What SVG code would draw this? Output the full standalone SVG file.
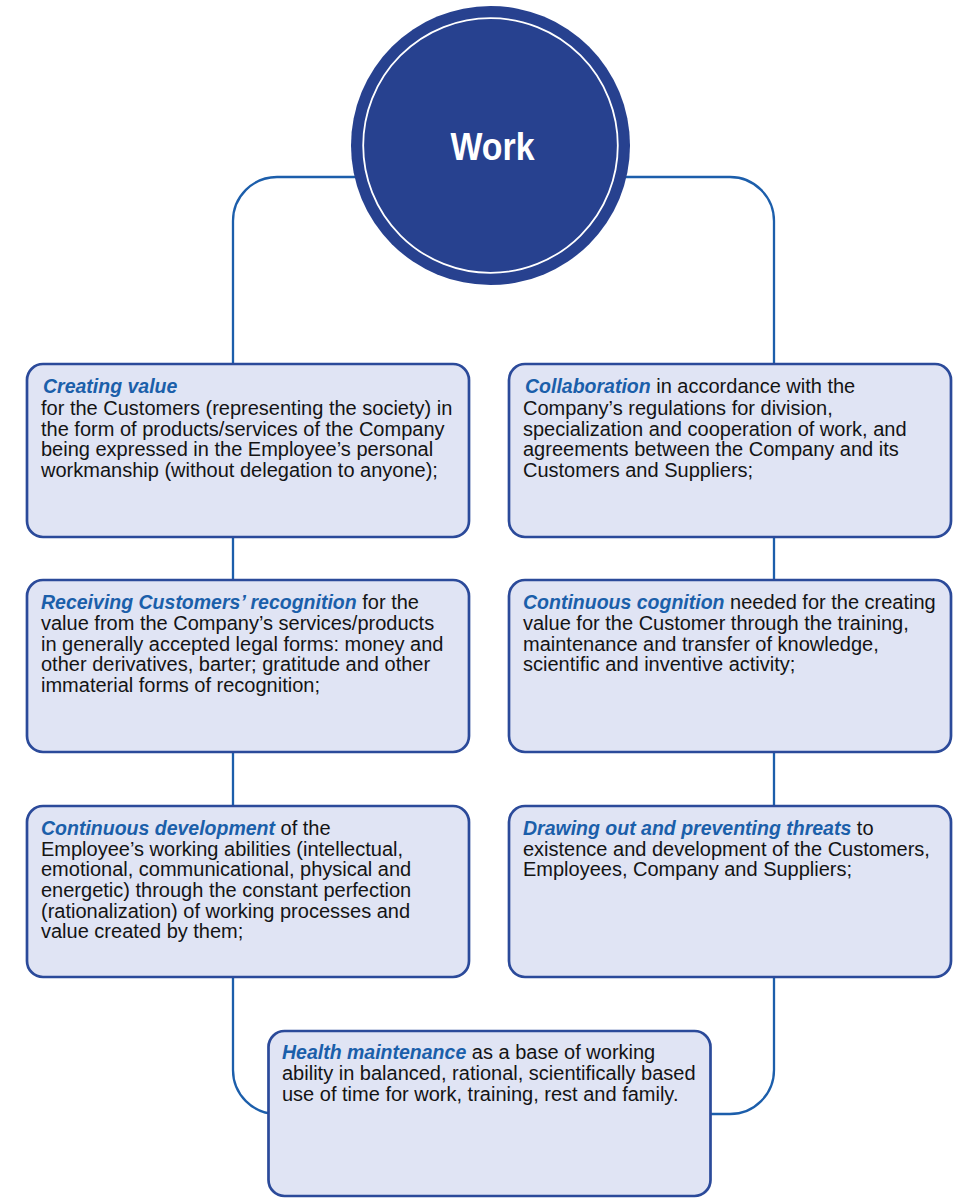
<svg xmlns="http://www.w3.org/2000/svg" width="958" height="1198" viewBox="0 0 958 1198">
<style>
.conn{fill:none;stroke:#1c5eab;stroke-width:2.3}
.box{fill:#e0e4f4;stroke:#2b4a9a;stroke-width:2.7}
.t{font-family:"Liberation Sans",Arial,sans-serif;font-size:20px;fill:#141414}
.h{font-weight:bold;font-style:italic;fill:#1b5faa;font-size:19.5px}
</style>
<rect width="958" height="1198" fill="#ffffff"/>
<g id="connectors">
<path class="conn" d="M400 177 H277 A44 44 0 0 0 233 221 V1070 A44 44 0 0 0 277 1114 H290"/>
<path class="conn" d="M580 177 H730 A44 44 0 0 1 774 221 V1070 A44 44 0 0 1 730 1114 H700"/>
</g>
<g id="work">
<circle cx="490.5" cy="145.5" r="139.5" fill="#27418f"/>
<circle cx="490.5" cy="145.5" r="127.3" fill="none" stroke="#ffffff" stroke-width="1.8"/>
<text x="492.5" y="160" text-anchor="middle" font-family="'Liberation Sans',Arial,sans-serif" font-weight="bold" font-size="39" fill="#ffffff" textLength="84" lengthAdjust="spacingAndGlyphs">Work</text>
</g>
<g id="creating-value">
<rect class="box" x="27" y="364" width="442" height="173" rx="16"/>
<text class="t"><tspan class="h" x="43" y="392.5">Creating value</tspan><tspan x="41" y="414.5">for the Customers (representing the society) in</tspan><tspan x="41" y="435.5">the form of products/services of the Company</tspan><tspan x="41" y="456">being expressed in the Employee’s personal</tspan><tspan x="41" y="476.5">workmanship (without delegation to anyone);</tspan></text>
</g>
<g id="collaboration">
<rect class="box" x="509" y="364" width="442" height="173" rx="16"/>
<text class="t"><tspan class="h" x="525" y="392.5">Collaboration</tspan><tspan> in accordance with the</tspan><tspan x="523" y="414.5">Company’s regulations for division,</tspan><tspan x="523" y="435.5">specialization and cooperation of work, and</tspan><tspan x="523" y="456">agreements between the Company and its</tspan><tspan x="523" y="476.5">Customers and Suppliers;</tspan></text>
</g>
<g id="recognition">
<rect class="box" x="27" y="580" width="442" height="172" rx="16"/>
<text class="t"><tspan class="h" x="41" y="608.5">Receiving Customers’ recognition</tspan><tspan> for the</tspan><tspan x="41" y="629.5">value from the Company’s services/products</tspan><tspan x="41" y="650.5">in generally accepted legal forms: money and</tspan><tspan x="41" y="671">other derivatives, barter; gratitude and other</tspan><tspan x="41" y="692">immaterial forms of recognition;</tspan></text>
</g>
<g id="cognition">
<rect class="box" x="509" y="580" width="442" height="172" rx="16"/>
<text class="t"><tspan class="h" x="523" y="608.5">Continuous cognition</tspan><tspan> needed for the creating</tspan><tspan x="523" y="629.5">value for the Customer through the training,</tspan><tspan x="523" y="650.5">maintenance and transfer of knowledge,</tspan><tspan x="523" y="671">scientific and inventive activity;</tspan></text>
</g>
<g id="development">
<rect class="box" x="27" y="806" width="442" height="171" rx="16"/>
<text class="t"><tspan class="h" x="41" y="834.5">Continuous development</tspan><tspan> of the</tspan><tspan x="41" y="855.5">Employee’s working abilities (intellectual,</tspan><tspan x="41" y="876">emotional, communicational, physical and</tspan><tspan x="41" y="897">energetic) through the constant perfection</tspan><tspan x="41" y="917.5">(rationalization) of working processes and</tspan><tspan x="41" y="938">value created by them;</tspan></text>
</g>
<g id="threats">
<rect class="box" x="509" y="806" width="442" height="171" rx="16"/>
<text class="t"><tspan class="h" x="523" y="834.5">Drawing out and preventing threats</tspan><tspan> to</tspan><tspan x="523" y="855.5">existence and development of the Customers,</tspan><tspan x="523" y="876">Employees, Company and Suppliers;</tspan></text>
</g>
<g id="health">
<rect class="box" x="268.5" y="1031" width="442" height="165" rx="16"/>
<text class="t"><tspan class="h" x="282" y="1059">Health maintenance</tspan><tspan> as a base of working</tspan><tspan x="282" y="1080">ability in balanced, rational, scientifically based</tspan><tspan x="282" y="1100.5">use of time for work, training, rest and family.</tspan></text>
</g>
</svg>
